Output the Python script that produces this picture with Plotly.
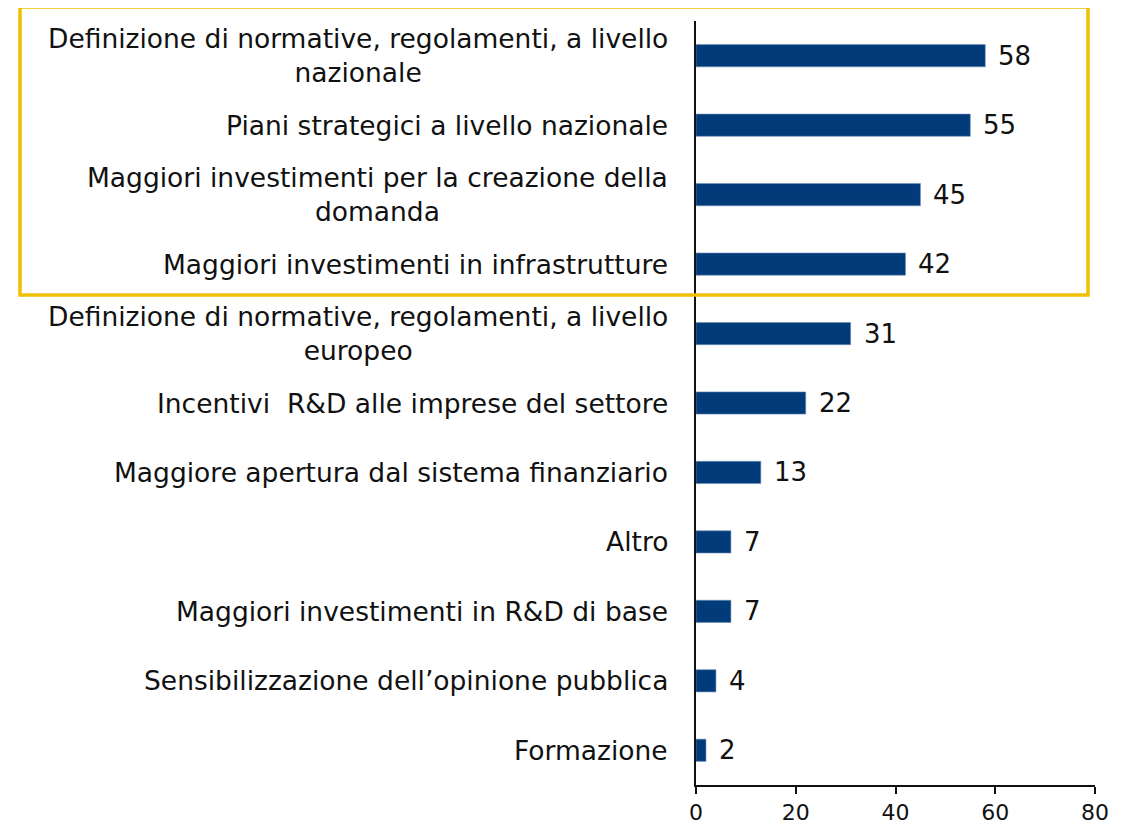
import plotly.graph_objects as go

categories = [
    "Definizione di normative, regolamenti, a livello<br>nazionale",
    "Piani strategici a livello nazionale",
    "Maggiori investimenti per la creazione della<br>domanda",
    "Maggiori investimenti in infrastrutture",
    "Definizione di normative, regolamenti, a livello<br>europeo",
    "Incentivi  R&D alle imprese del settore",
    "Maggiore apertura dal sistema finanziario",
    "Altro",
    "Maggiori investimenti in R&D di base",
    "Sensibilizzazione dell’opinione pubblica",
    "Formazione",
]
values = [58, 55, 45, 42, 31, 22, 13, 7, 7, 4, 2]
x_ticks = [0, 20, 40, 60, 80]

FONT = "DejaVu Sans"
BAR_COLOR = "#023B7A"

W, H = 1124, 818
L, R, T, B = 688, 37, 13, 41
PW = W - L - R
PH = H - T - B

fig = go.Figure()
fig.add_trace(go.Bar(
    y=list(range(len(categories))),
    x=values,
    orientation="h",
    marker=dict(color=BAR_COLOR, line=dict(color="#6f8fb8", width=0.6)),
    width=0.32,
    hoverinfo="skip",
))

for i, (c, v) in enumerate(zip(categories, values)):
    fig.add_annotation(
        x=0, xref="paper", y=i, yref="y", text=c, showarrow=False,
        xanchor="right", yanchor="middle", align="center", xshift=-26,
        font=dict(family=FONT, size=26.5, color="#111111"),
    )
    fig.add_annotation(
        x=v, xref="x", y=i, yref="y", text=str(v), showarrow=False,
        xanchor="left", yanchor="middle", xshift=11,
        font=dict(family=FONT, size=26, color="#111111"),
    )

# highlight box (screen px: x 20..1088, y 7..295; page offset 8px)
fig.add_shape(
    type="rect", xref="paper", yref="paper",
    x0=(20 - 8 - L) / PW, x1=(1088 - 8 - L) / PW,
    y0=1 - (295 - 8 - T) / PH, y1=1 + (T - (7 - 8)) / PH,
    line=dict(color="#F0C000", width=3.5),
)

fig.update_layout(
    width=W, height=H,
    margin=dict(l=L, r=R, t=T, b=B, autoexpand=False),
    paper_bgcolor="white", plot_bgcolor="white",
    showlegend=False,
    xaxis=dict(
        range=[0, 80], tickvals=x_ticks, showgrid=False, zeroline=False,
        showline=True, linecolor="#111111", linewidth=2, automargin=False,
        ticks="outside", ticklen=7, tickcolor="#111111", tickwidth=2,
        tickfont=dict(family=FONT, size=22, color="#111111"),
    ),
    yaxis=dict(
        range=[len(categories) - 0.5, -0.5], showticklabels=False,
        showgrid=False, zeroline=False, automargin=False,
        showline=True, linecolor="#111111", linewidth=2,
    ),
)

fig.write_html("out.html")
